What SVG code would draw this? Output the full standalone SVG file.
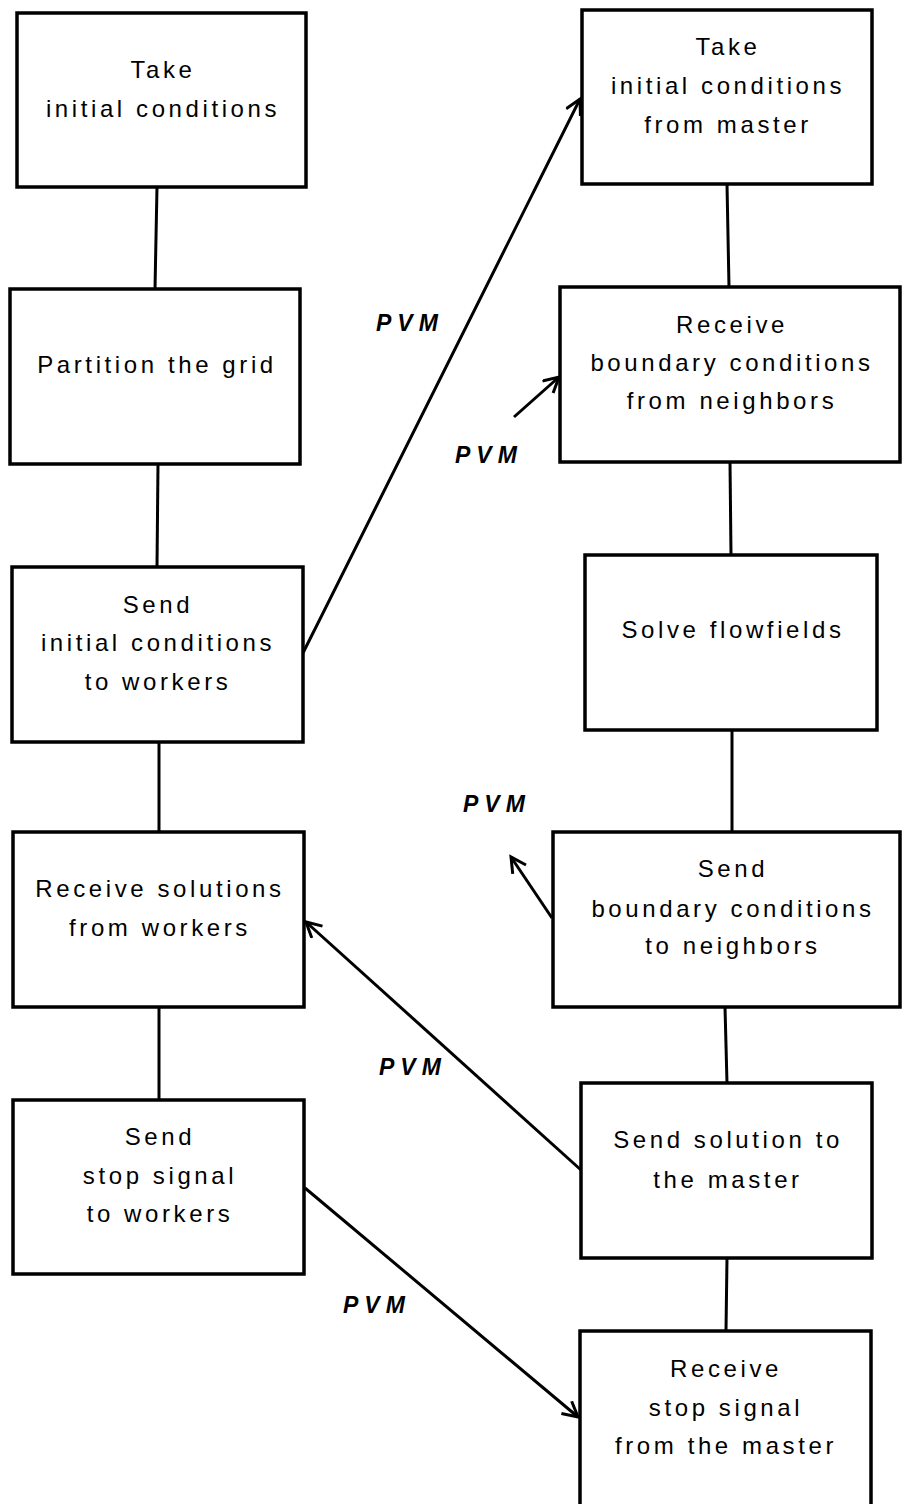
<svg xmlns="http://www.w3.org/2000/svg" width="902" height="1504" viewBox="0 0 902 1504">
<defs>
<style>
.box{fill:#fff;stroke:#000;stroke-width:3.5}
.t{font-family:"Liberation Sans",Arial,sans-serif;font-size:24px;letter-spacing:3.6px;text-anchor:middle;fill:#000}
.pvm{font-family:"Liberation Sans",Arial,sans-serif;font-size:23px;font-weight:bold;font-style:italic;letter-spacing:6px;fill:#000}
.c{stroke:#000;stroke-width:3;fill:none}
</style>
<marker id="ah" markerUnits="userSpaceOnUse" markerWidth="22" markerHeight="22" refX="16" refY="9" orient="auto" viewBox="0 0 22 22">
<path d="M1,1 L16,9 L1,17" fill="none" stroke="#000" stroke-width="3"/>
</marker>
</defs>
<rect width="902" height="1504" fill="#fff"/>
<g id="connectors">
<line class="c" x1="157" y1="187" x2="155" y2="289"/>
<line class="c" x1="158" y1="464" x2="157" y2="567"/>
<line class="c" x1="159" y1="742" x2="159" y2="832"/>
<line class="c" x1="159" y1="1007" x2="159" y2="1100"/>
<line class="c" x1="727" y1="184" x2="729" y2="287"/>
<line class="c" x1="730" y1="462" x2="731" y2="555"/>
<line class="c" x1="732" y1="730" x2="732" y2="832"/>
<line class="c" x1="725" y1="1007" x2="727" y2="1083"/>
<line class="c" x1="727" y1="1258" x2="726" y2="1331"/>
<line class="c" x1="303" y1="653" x2="580" y2="99" marker-end="url(#ah)"/>
<line class="c" x1="514" y1="417" x2="559" y2="377" marker-end="url(#ah)"/>
<line class="c" x1="552" y1="918" x2="511" y2="857" marker-end="url(#ah)"/>
<line class="c" x1="581" y1="1170" x2="306" y2="922" marker-end="url(#ah)"/>
<line class="c" x1="305" y1="1188" x2="578" y2="1417" marker-end="url(#ah)"/>
</g>
<g id="labels">
<text class="pvm" x="376" y="331">PVM</text>
<text class="pvm" x="455" y="463">PVM</text>
<text class="pvm" x="463" y="812">PVM</text>
<text class="pvm" x="379" y="1075">PVM</text>
<text class="pvm" x="343" y="1313">PVM</text>
</g>
<g id="n1">
<rect class="box" x="17" y="13" width="289" height="174"/>
<text class="t" x="163" y="78">Take</text>
<text class="t" x="163" y="117">initial conditions</text>
</g>
<g id="n2">
<rect class="box" x="10" y="289" width="290" height="175"/>
<text class="t" x="157" y="373">Partition the grid</text>
</g>
<g id="n3">
<rect class="box" x="12" y="567" width="291" height="175"/>
<text class="t" x="158" y="613">Send</text>
<text class="t" x="158" y="651">initial conditions</text>
<text class="t" x="158" y="690">to workers</text>
</g>
<g id="n4">
<rect class="box" x="13" y="832" width="291" height="175"/>
<text class="t" x="160" y="897">Receive solutions</text>
<text class="t" x="160" y="936">from workers</text>
</g>
<g id="n5">
<rect class="box" x="13" y="1100" width="291" height="174"/>
<text class="t" x="160" y="1145">Send</text>
<text class="t" x="160" y="1184">stop signal</text>
<text class="t" x="160" y="1222">to workers</text>
</g>
<g id="n6">
<rect class="box" x="582" y="10" width="290" height="174"/>
<text class="t" x="728" y="55">Take</text>
<text class="t" x="728" y="94">initial conditions</text>
<text class="t" x="728" y="133">from master</text>
</g>
<g id="n7">
<rect class="box" x="560" y="287" width="340" height="175"/>
<text class="t" x="732" y="333">Receive</text>
<text class="t" x="732" y="371">boundary conditions</text>
<text class="t" x="732" y="409">from neighbors</text>
</g>
<g id="n8">
<rect class="box" x="585" y="555" width="292" height="175"/>
<text class="t" x="733" y="638">Solve flowfields</text>
</g>
<g id="n9">
<rect class="box" x="553" y="832" width="347" height="175"/>
<text class="t" x="733" y="877">Send</text>
<text class="t" x="733" y="917">boundary conditions</text>
<text class="t" x="733" y="954">to neighbors</text>
</g>
<g id="n10">
<rect class="box" x="581" y="1083" width="291" height="175"/>
<text class="t" x="728" y="1148">Send solution to</text>
<text class="t" x="728" y="1188">the master</text>
</g>
<g id="n11">
<rect class="box" x="580" y="1331" width="291" height="176"/>
<text class="t" x="726" y="1377">Receive</text>
<text class="t" x="726" y="1416">stop signal</text>
<text class="t" x="726" y="1454">from the master</text>
</g>
</svg>
